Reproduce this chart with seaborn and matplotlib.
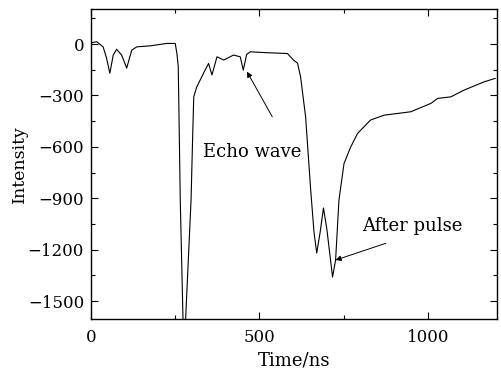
import matplotlib
matplotlib.use("Agg")
import matplotlib.pyplot as plt
import seaborn as sns
import pandas as pd
from matplotlib.ticker import MultipleLocator, FixedLocator

time_ns = [0, 2, 17, 36, 46, 56, 66, 76, 91, 106, 121, 136, 176, 225, 250, 255, 259,
           265, 273, 277, 281, 297, 302, 305, 314, 334, 349, 359, 374, 394, 423, 443,
           452, 462, 473, 520, 583, 601, 613, 622, 637, 652, 662, 670, 680, 690, 700,
           717, 726, 736, 751, 771, 791, 815, 830, 870, 949, 1009, 1029, 1068, 1108,
           1167, 1200]
intensity = [5, 8, 14, -16, -80, -170, -64, -30, -64, -140, -35, -16, -10, 4, 4, -55, -130,
             -910, -1600, -1750, -1600, -910, -521, -308, -250, -170, -113, -180, -74, -93,
             -64, -74, -152, -60, -45, -50, -55, -93, -111, -190, -425, -850, -1100, -1220,
             -1100, -957, -1080, -1360, -1261, -910, -697, -600, -522, -473, -443, -415,
             -395, -346, -317, -308, -268, -220, -200]
y_ticks = [0, -300, -600, -900, -1200, -1500]
x_ticks = [0, 500, 1000]

df = pd.DataFrame({"Time/ns": time_ns, "Intensity": intensity})

sns.set_theme(style="ticks")
plt.rcParams["font.family"] = ["DejaVu Serif"]
plt.rcParams["text.color"] = "black"
plt.rcParams["axes.labelcolor"] = "black"

fig = plt.figure(figsize=(5.01, 3.72), dpi=100)
ax = fig.add_axes([0.1816, 0.1425, 0.8104, 0.8333])
sns.lineplot(data=df, x="Time/ns", y="Intensity", ax=ax, color="black", linewidth=0.8)

ax.set_xlim(0, 1205)
ax.set_ylim(-1605, 205)
ax.xaxis.set_major_locator(FixedLocator(x_ticks))
ax.yaxis.set_major_locator(FixedLocator(y_ticks))
ax.xaxis.set_minor_locator(MultipleLocator(250))
ax.yaxis.set_minor_locator(MultipleLocator(150))
ax.set_yticklabels(["0" if v == 0 else "\u2212" + str(-v) for v in y_ticks])
ax.set_xticklabels([str(v) for v in x_ticks])
ax.tick_params(which="both", direction="in", top=True, right=True, labelsize=12,
               colors="black", labelcolor="black")
ax.tick_params(which="major", length=5, width=0.8)
ax.tick_params(axis="x", which="major", pad=7)
ax.tick_params(axis="y", which="major", pad=5)
ax.tick_params(which="minor", length=3, width=0.8)
for s in ax.spines.values():
    s.set_linewidth(1.0)
    s.set_color("black")
ax.set_xlabel("Time/ns", fontsize=13, labelpad=4, color="black")
ax.set_ylabel("Intensity", fontsize=12.5, labelpad=0, color="black")

ax.text(479, -630, "Echo wave", fontsize=13, ha="center", va="center", color="black")
ax.annotate("", xy=(463, -161), xytext=(538, -424),
            arrowprops=dict(arrowstyle="-|>", color="black", lw=0.7,
                            mutation_scale=8, shrinkA=0, shrinkB=0))
ax.text(806, -1062, "After pulse", fontsize=13, ha="left", va="center", color="black")
ax.annotate("", xy=(726, -1261), xytext=(875, -1163),
            arrowprops=dict(arrowstyle="-|>", color="black", lw=0.7,
                            mutation_scale=8, shrinkA=0, shrinkB=0))

fig.savefig("out.png", dpi=100)
